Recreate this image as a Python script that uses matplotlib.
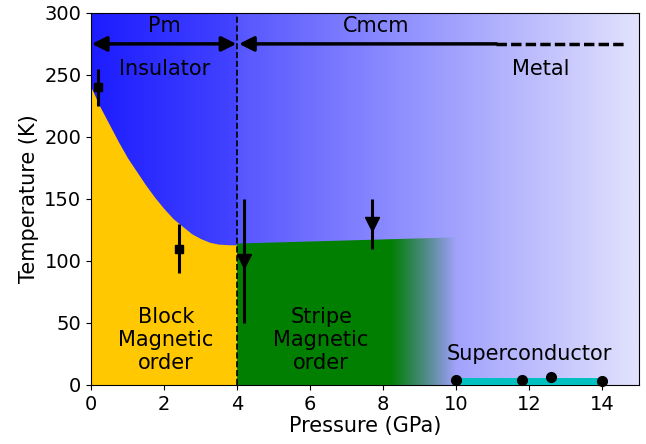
import numpy as np
import matplotlib
matplotlib.use("Agg")
import matplotlib.pyplot as plt
from matplotlib.patches import Polygon

# ---- data ----
block_curve_p = [0.0, 0.25, 0.5, 0.75, 1.0, 1.25, 1.5, 1.75, 2.0, 2.25, 2.5, 2.75, 3.0, 3.25, 3.5, 3.8, 4.0]
block_curve_t = [240, 224, 210, 196, 183, 172, 161, 151, 142, 134, 128, 122, 118, 115, 113.5, 113, 113]
stripe_top_p = [4.0, 10.0]
stripe_top_t = [114, 119]

err_sq_p = [0.2, 2.4]
err_sq_t = [240, 110]
err_sq_e = [15, 20]

err_tri_p = [4.2, 7.7]
err_tri_t = [100, 130]
err_tri_e = [50, 20]

sc_p = [10.0, 11.8, 12.6, 14.0]
sc_t = [4, 4, 6.5, 3.5]
sc_band_p = [10.0, 14.0]
sc_band_t = 5.5

fig = plt.figure(figsize=(6.46, 4.44), dpi=100)
ax = fig.add_axes([0.141, 0.133, 0.848, 0.838])

# background gradients (two phases)
def hgrad(c0, c1, n=200):
    g = np.linspace(0, 1, n)
    c0 = np.array(c0) / 255.0
    c1 = np.array(c1) / 255.0
    return (c0[None, :] * (1 - g[:, None]) + c1[None, :] * g[:, None])[None, :, :]

ax.imshow(hgrad((28, 28, 255), (68, 68, 255)), extent=[0, 4, 0, 300], aspect='auto',
          zorder=0, interpolation='bilinear')
ax.imshow(hgrad((86, 86, 255), (226, 226, 253)), extent=[4, 15, 0, 300], aspect='auto',
          zorder=0, interpolation='bilinear')

# block magnetic region
ax.fill_between(block_curve_p, 0, block_curve_t, color='#ffc800', lw=0, zorder=1)

# stripe region with fade
xs = np.linspace(4, 10, 400)
alpha = np.clip((10 - xs) / (10 - 8.2), 0, 1)
img = np.zeros((1, len(xs), 4))
img[0, :, 1] = 0.5
img[0, :, 3] = alpha
im = ax.imshow(img, extent=[4, 10, 0, 130], aspect='auto', zorder=1, interpolation='bilinear')
poly = Polygon([(stripe_top_p[0], 0), (stripe_top_p[0], stripe_top_t[0]),
                (stripe_top_p[1], stripe_top_t[1]), (stripe_top_p[1], 0)],
               closed=True, transform=ax.transData, facecolor='none', edgecolor='none')
ax.add_patch(poly)
im.set_clip_path(poly)

ax.set_xlim(0, 15)
ax.set_ylim(0, 300)

# dashed boundary
ax.axvline(4, color='k', ls='--', lw=1.2, zorder=3)

# arrows
ax.annotate('', xy=(0.02, 275), xytext=(3.98, 275),
            arrowprops=dict(arrowstyle='<|-|>', lw=2.5, color='k', mutation_scale=22,
                            shrinkA=0, shrinkB=0), zorder=4)
ax.annotate('', xy=(4.05, 275), xytext=(11.1, 275),
            arrowprops=dict(arrowstyle='-|>', lw=2.5, color='k', mutation_scale=22,
                            shrinkA=0, shrinkB=0), zorder=4)
ax.plot([11.1, 14.6], [275, 275], color='k', lw=2.5, ls=(0, (3, 1.2)), zorder=4)

fs = 15
ax.text(2.0, 281, 'Pm', ha='center', va='bottom', fontsize=fs)
ax.text(7.8, 281, 'Cmcm', ha='center', va='bottom', fontsize=fs)
ax.text(2.0, 255, 'Insulator', ha='center', va='center', fontsize=fs)
ax.text(12.3, 255, 'Metal', ha='center', va='center', fontsize=fs)
ax.text(2.05, 36, 'Block\nMagnetic\norder', ha='center', va='center', fontsize=fs, linespacing=1.2)
ax.text(6.3, 36, 'Stripe\nMagnetic\norder', ha='center', va='center', fontsize=fs, linespacing=1.2)
ax.text(12.0, 25, 'Superconductor', ha='center', va='center', fontsize=fs)

# error bars
ax.errorbar(err_sq_p, err_sq_t, yerr=err_sq_e, fmt='s', color='k', ms=6, lw=2.2, capsize=0, zorder=5)
ax.errorbar(err_tri_p, err_tri_t, yerr=err_tri_e, fmt='v', color='k', ms=10, lw=2.2, capsize=0, zorder=5)

# superconductor
ax.fill_between(sc_band_p, 0, sc_band_t, color='#00c0c0', lw=0, zorder=4)
ax.plot(sc_p, sc_t, 'o', color='k', ms=7, zorder=6, clip_on=False)

ax.set_xticks([0, 2, 4, 6, 8, 10, 12, 14])
ax.set_yticks([0, 50, 100, 150, 200, 250, 300])
ax.tick_params(labelsize=14)
ax.set_xlabel('Pressure (GPa)', fontsize=fs, labelpad=2)
ax.set_ylabel('Temperature (K)', fontsize=fs, labelpad=4)

fig.savefig('out.png', dpi=100)
